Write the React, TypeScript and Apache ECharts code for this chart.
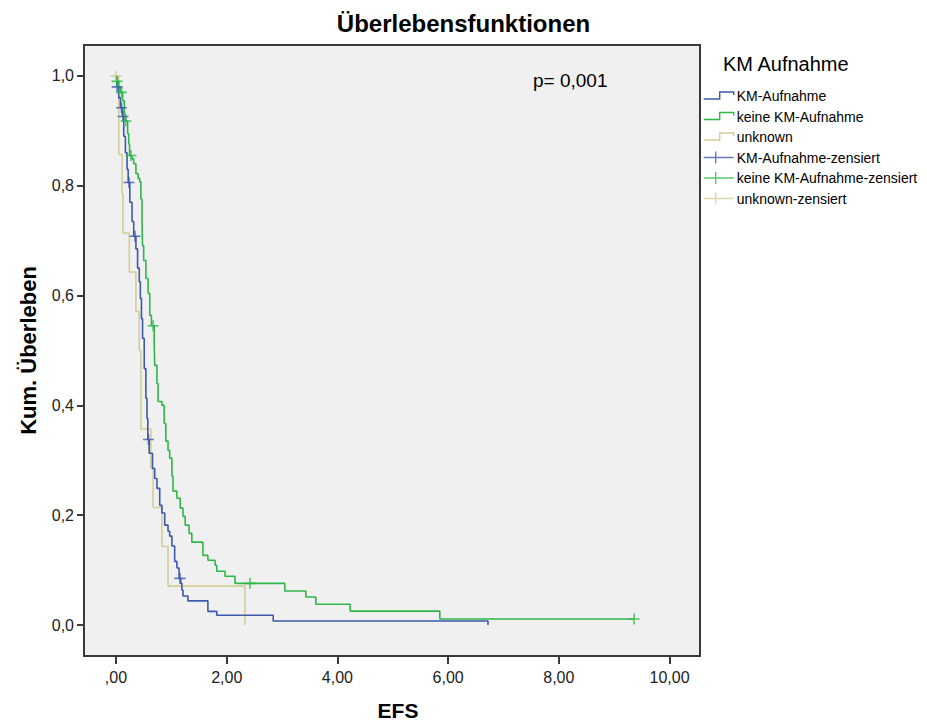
import React, { useEffect, useRef } from "react";
import * as echarts from "echarts";

// ---- Data ----
const X_TICKS = [0, 2, 4, 6, 8, 10];
const Y_TICKS = [0, 0.2, 0.4, 0.6, 0.8, 1.0];

// KM-Aufnahme (blue)
const KM_TIMES = [0, 0.015, 0.05, 0.08, 0.115, 0.14, 0.17, 0.2, 0.22, 0.25, 0.29, 0.32, 0.36, 0.39, 0.42, 0.44, 0.46, 0.48, 0.51, 0.54, 0.56, 0.575, 0.6, 0.66, 0.7, 0.74, 0.79, 0.83, 0.88, 0.94, 0.97, 1.01, 1.06, 1.1, 1.14, 1.17, 1.19, 1.21, 1.3, 1.66, 1.82, 2.84, 6.72];
const KM_SURV = [1.0, 0.98, 0.96, 0.942, 0.926, 0.89, 0.86, 0.83, 0.806, 0.77, 0.735, 0.708, 0.685, 0.65, 0.625, 0.595, 0.558, 0.522, 0.467, 0.413, 0.376, 0.338, 0.313, 0.285, 0.267, 0.249, 0.218, 0.204, 0.182, 0.171, 0.162, 0.144, 0.116, 0.104, 0.085, 0.076, 0.064, 0.053, 0.044, 0.025, 0.018, 0.0073, 0];
const KM_CENS_T = [0.02, 0.1, 0.126, 0.235, 0.343, 0.587, 1.156];
const KM_CENS_S = [0.98, 0.942, 0.926, 0.806, 0.708, 0.338, 0.085];

// keine KM-Aufnahme (green)
const NO_TIMES = [0, 0.01, 0.05, 0.08, 0.12, 0.15, 0.17, 0.21, 0.23, 0.245, 0.29, 0.32, 0.36, 0.4, 0.43, 0.45, 0.47, 0.48, 0.5, 0.54, 0.58, 0.61, 0.64, 0.69, 0.7, 0.74, 0.76, 0.83, 0.87, 0.9, 0.94, 0.97, 1.01, 1.03, 1.1, 1.16, 1.21, 1.25, 1.32, 1.37, 1.57, 1.66, 1.79, 1.82, 1.97, 2.15, 3.05, 3.43, 3.61, 4.23, 5.85, 9.36];
const NO_SURV = [1.0, 0.99, 0.98, 0.97, 0.955, 0.93, 0.918, 0.895, 0.876, 0.855, 0.849, 0.84, 0.822, 0.813, 0.807, 0.776, 0.731, 0.691, 0.664, 0.631, 0.604, 0.564, 0.545, 0.513, 0.473, 0.44, 0.407, 0.4, 0.367, 0.335, 0.318, 0.304, 0.271, 0.244, 0.231, 0.213, 0.198, 0.182, 0.167, 0.151, 0.127, 0.118, 0.109, 0.098, 0.089, 0.076, 0.062, 0.051, 0.038, 0.0255, 0.011, 0.011];
const NO_CENS_T = [0.02, 0.1, 0.18, 0.27, 0.67, 2.42, 9.36];
const NO_CENS_S = [0.99, 0.97, 0.918, 0.855, 0.545, 0.076, 0.011];

// unknown (tan)
const UN_TIMES = [0, 0.05, 0.11, 0.125, 0.24, 0.36, 0.42, 0.45, 0.63, 0.67, 0.83, 0.94, 2.33];
const UN_SURV = [1.0, 0.857, 0.786, 0.714, 0.643, 0.571, 0.5, 0.357, 0.286, 0.214, 0.143, 0.071, 0];
const UN_CENS_T = [0];
const UN_CENS_S = [1.0];

const SERIES_NAMES = [
  "KM-Aufnahme",
  "keine KM-Aufnahme",
  "unknown",
  "KM-Aufnahme-zensiert",
  "keine KM-Aufnahme-zensiert",
  "unknown-zensiert",
];

const BLUE = "#3E58AC";
const GREEN = "#2EB848";
const TAN = "#D3CE97";
const FONT = "'Liberation Sans', Arial, sans-serif";

const zip = (a: number[], b: number[]) => a.map((t, i) => [t, b[i]]);

const STEP_ICON = "path://M0,9 L16,9 L16,2 L30,2 L30,5 M0,0 M0,12";
const CENS_ICON = "path://M0,6 L30,6 M12,0 L12,12";
const PLUS = "path://M5,0 L5,10 M0,5 L10,5";

const fmtX = (v: number) => (v === 0 ? ",00" : v.toFixed(2).replace(".", ","));
const fmtY = (v: number) => v.toFixed(1).replace(".", ",");

export default function App() {
  const ref = useRef<HTMLDivElement>(null);
  useEffect(() => {
    if (!ref.current) return;
    const chart = echarts.init(ref.current, undefined, { renderer: "svg" });
    const lineSeries = (name: string, t: number[], s: number[], color: string, z: number) => ({
      name,
      type: "line",
      step: "end",
      data: zip(t, s),
      symbol: "none",
      silent: true,
      z,
      itemStyle: { color },
      lineStyle: { color, width: 1.6 },
    });
    const censSeries = (name: string, t: number[], s: number[], color: string, z: number) => ({
      name,
      type: "scatter",
      data: zip(t, s),
      symbol: PLUS,
      symbolSize: 11,
      silent: true,
      z,
      itemStyle: { color: "transparent", borderColor: color, borderWidth: 1.6 },
    });
    const legendItem = (name: string, icon: string, color: string) => ({
      name,
      icon,
      itemStyle: { color: "transparent", borderColor: color, borderWidth: 1.4 },
    });
    chart.setOption({
      animation: false,
      backgroundColor: "#ffffff",
      textStyle: { fontFamily: FONT },
      title: [
        {
          text: "Überlebensfunktionen",
          left: "center",
          top: 11,
          padding: 0,
          textStyle: { fontFamily: FONT, fontSize: 24, fontWeight: "bold", color: "#000" },
        },
        {
          text: "KM Aufnahme",
          left: 723,
          top: 54,
          padding: 0,
          textStyle: { fontFamily: FONT, fontSize: 20, fontWeight: "normal", color: "#000" },
        },
        {
          text: "p= 0,001",
          left: 533,
          top: 71,
          padding: 0,
          textStyle: { fontFamily: FONT, fontSize: 19, fontWeight: "normal", color: "#000" },
        },
      ],
      legend: {
        orient: "vertical",
        left: 703,
        top: 89,
        padding: 0,
        itemWidth: 30,
        itemHeight: 13,
        itemGap: 6.5,
        selectedMode: false,
        textStyle: { fontFamily: FONT, fontSize: 14, color: "#000", padding: [0, 0, 0, -2] },
        data: [
          legendItem(SERIES_NAMES[0], STEP_ICON, BLUE),
          legendItem(SERIES_NAMES[1], STEP_ICON, GREEN),
          legendItem(SERIES_NAMES[2], STEP_ICON, TAN),
          legendItem(SERIES_NAMES[3], CENS_ICON, BLUE),
          legendItem(SERIES_NAMES[4], CENS_ICON, GREEN),
          legendItem(SERIES_NAMES[5], CENS_ICON, TAN),
        ],
      },
      grid: {
        left: 84,
        top: 45,
        width: 616,
        height: 613,
        show: true,
        backgroundColor: "#f0f0f0",
        borderColor: "#3a3a3a",
        borderWidth: 2,
        containLabel: false,
      },
      xAxis: {
        type: "value",
        position: "bottom",
        min: -0.578,
        max: 10.55,
        name: "EFS",
        nameLocation: "middle",
        nameGap: 44,
        nameTextStyle: { fontFamily: FONT, fontSize: 21, fontWeight: "bold", color: "#000", padding: [0, 0, 0, 12] },
        axisLine: { show: false, onZero: false },
        splitLine: { show: false },
        axisTick: { show: true, customValues: X_TICKS, length: 8, lineStyle: { color: "#3a3a3a", width: 2 } },
        axisLabel: { customValues: X_TICKS, formatter: fmtX, margin: 13, fontSize: 16, color: "#222", fontFamily: FONT },
      },
      yAxis: {
        type: "value",
        position: "left",
        min: -0.0563,
        max: 1.0563,
        name: "Kum. Überleben",
        nameLocation: "middle",
        nameGap: 45,
        nameTextStyle: { fontFamily: FONT, fontSize: 22, fontWeight: "bold", color: "#000" },
        axisLine: { show: false, onZero: false },
        splitLine: { show: false },
        axisTick: { show: true, customValues: Y_TICKS, length: 7, lineStyle: { color: "#3a3a3a", width: 2 } },
        axisLabel: { customValues: Y_TICKS, formatter: fmtY, margin: 10, fontSize: 16, color: "#222", fontFamily: FONT },
      },
      series: [
        lineSeries(SERIES_NAMES[0], KM_TIMES, KM_SURV, BLUE, 3),
        lineSeries(SERIES_NAMES[1], NO_TIMES, NO_SURV, GREEN, 4),
        lineSeries(SERIES_NAMES[2], UN_TIMES, UN_SURV, TAN, 2),
        censSeries(SERIES_NAMES[3], KM_CENS_T, KM_CENS_S, BLUE, 5),
        censSeries(SERIES_NAMES[4], NO_CENS_T, NO_CENS_S, GREEN, 6),
        censSeries(SERIES_NAMES[5], UN_CENS_T, UN_CENS_S, TAN, 5),
      ],
    });
    return () => chart.dispose();
  }, []);
  return (
    <div
      ref={ref}
      style={{ position: "fixed", left: 0, top: 0, width: 927, height: 726, background: "#fff" }}
    />
  );
}
